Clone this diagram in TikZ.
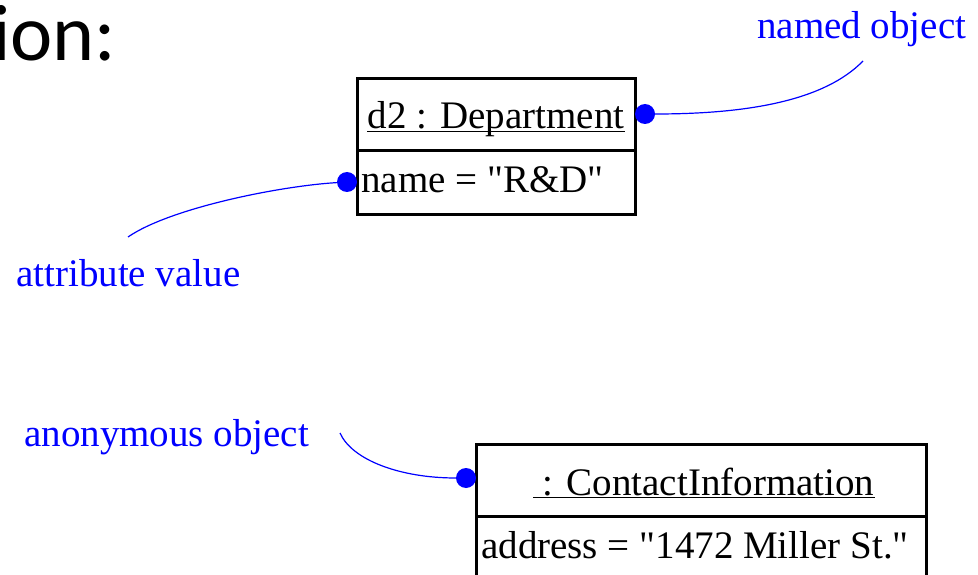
\documentclass[tikz,border=0pt]{standalone}
\usepackage{fontspec}
\setmainfont{Liberation Serif}[Ligatures=TeXOff]
\newfontfamily\calib{Carlito}
\definecolor{lblue}{RGB}{0,0,255}
\newcommand{\dq}{\symbol{34}}
\tikzset{
  boxpart/.style={draw=black, line width=3pt, rectangle, inner sep=0pt},
  boxtext/.style={inner sep=0pt, font=\fontsize{39}{47}\selectfont, text=black},
  note/.style={inner sep=0pt, anchor=base west, font=\fontsize{39}{47}\selectfont, text=lblue},
  dotnode/.style={circle, fill=lblue, inner sep=0pt, minimum size=20pt},
  conn/.style={draw=lblue, line width=1.2pt},
  uline/.style={draw=black, line width=1.5pt}
}
\begin{document}
\begin{tikzpicture}[x=1pt, y=-1pt]
\useasboundingbox (0,0) rectangle (978,575);
% title fragment
\node[inner sep=0pt, anchor=base west, font=\calib\fontsize{80}{96}\selectfont] (title) at (-8,61) {ion:};
% object d2
\node[boxpart, minimum width=278pt, minimum height=72pt] (h1) at (496,115) {};
\node[boxpart, minimum width=278pt, minimum height=64pt] (a1) at (496,183) {};
\node[boxtext, anchor=base] (t1) at (496,129) {d2 : Department};
\draw[uline] ([yshift=-2.5pt]t1.base west) -- ([yshift=-2.5pt]t1.base east);
\node[boxtext, anchor=base west] (t2) at (361,193) {name = \dq R\&D\dq};
% anonymous object
\node[boxpart, minimum width=450pt, minimum height=72pt] (h2) at (701,480) {};
\node[boxpart, minimum width=450pt, minimum height=84pt] (a2) at (701,558) {};
\node[boxtext, anchor=base west] (t3) at (533,495) {\hspace*{0.25em}: ContactInformation};
\draw[uline] ([yshift=-2.5pt]t3.base west) -- ([yshift=-2.5pt]t3.base east);
\node[boxtext, anchor=base west] (t4) at (481,558) {address = \dq 1472 Miller St.\dq};
% notes
\node[note] (n1) at (757,39) {named object};
\node[note] (n2) at (16,286) {attribute value};
\node[note] (n3) at (24,446) {anonymous object};
% dots
\node[dotnode] (d1) at (645,114) {};
\node[dotnode] (d2) at (347,182) {};
\node[dotnode] (d3) at (466,478) {};
% connector free ends
\coordinate (e1) at (863,61);
\coordinate (e2) at (128,237);
\coordinate (e3) at (340,433);
% connectors
\draw[conn] (d1) .. controls (750,114) and (825,100) .. (e1);
\draw[conn] (d2) .. controls (280,186) and (170,208) .. (e2);
\draw[conn] (e3) .. controls (352,460) and (400,478) .. (d3);
\end{tikzpicture}
\end{document}
